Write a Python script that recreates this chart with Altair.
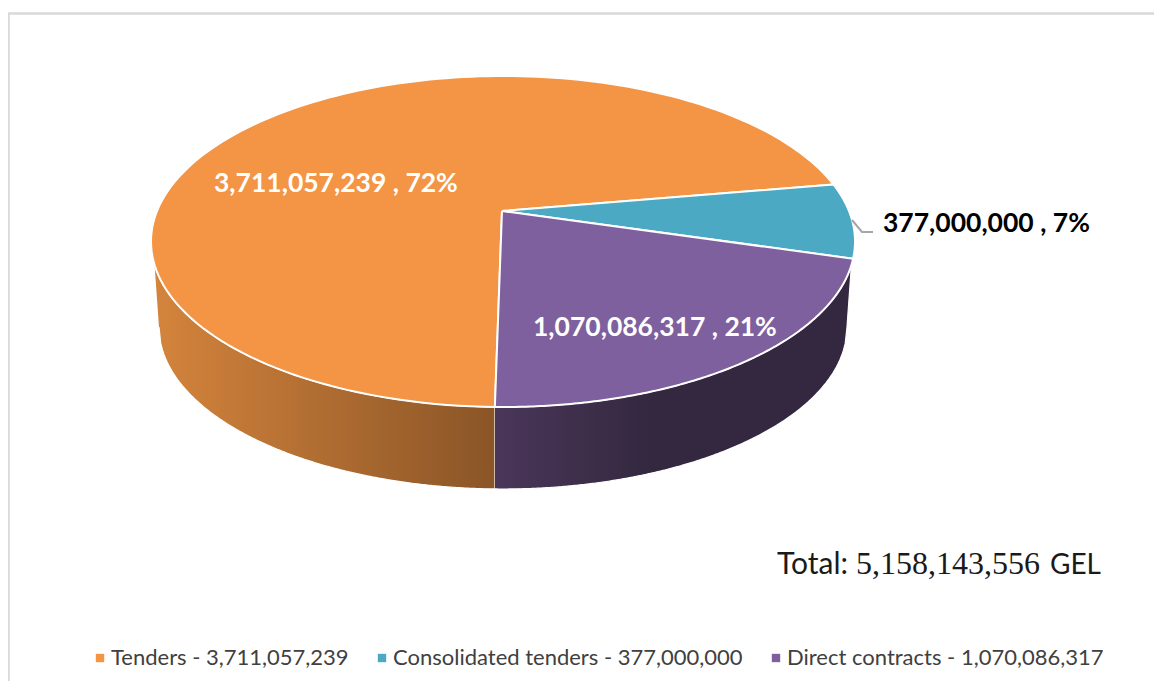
import numpy as np
import pandas as pd
import altair as alt

categories = ["Tenders", "Consolidated tenders", "Direct contracts"]
values = [3711057239, 377000000, 1070086317]
total_text = "5,158,143,556"
colors = ["#F39545", "#4BA9C4", "#7F609E"]

# drawing geometry of the tilted disc
CX, CY, RX, RY = 503.0, 241.5, 352.0, 165.5
BCY, BRX, BRY = 327.0, 344.0, 162.0
TILT = 0.184
START = 181.1
WALL_Y = 265.0
SPLIT_X = 495.0


def rim(theta_deg):
    t = np.radians(np.asarray(theta_deg, dtype=float))
    u, v = np.sin(t), np.cos(t)
    s = np.sqrt(1 - TILT ** 2)
    d = 1 + TILT * v
    return CX + RX * u * s / d, CY - RY * (v + TILT) / d


def frame(xs, ys):
    return pd.DataFrame({"x": xs, "y": ys, "i": np.arange(len(xs))})


X = alt.X("x:Q", scale=alt.Scale(domain=[8, 1154], range=[0, 1146]), axis=None)
Y = alt.Y("y:Q", scale=alt.Scale(domain=[681, 8], range=[673, 0]), axis=None)
O = alt.Order("i:Q")


def poly(df, fill, stroke="white", sw=2.0):
    return (alt.Chart(df).mark_line(fill=fill, stroke=stroke, strokeWidth=sw, strokeJoin="round")
            .encode(x=X, y=Y, order=O))


def grad(stops):
    return alt.Gradient(gradient="linear", x1=0, x2=1, y1=0, y2=0,
                        stops=[alt.GradientStop(color=c, offset=o) for c, o in stops])


shares = np.array(values) / sum(values)
edges = [START]
for s in shares:
    edges.append(edges[-1] + s * 360)

apex_x, apex_y = CX - 1, CY - RY * TILT

slices = []
for k in range(3):
    th = np.linspace(edges[k], edges[k + 1], 160)
    rx, ry = rim(th)
    xs = np.r_[apex_x, rx, apex_x]
    ys = np.r_[apex_y, ry, apex_y]
    slices.append(poly(frame(xs, ys), colors[k]))


def top_y(x):
    return CY + RY * np.sqrt(np.clip(1 - ((x - CX) / RX) ** 2, 0, 1))


def bot_y(x):
    return BCY + BRY * np.sqrt(np.clip(1 - ((x - CX) / BRX) ** 2, 0, 1))


left_x = CX - RX * np.sqrt(1 - ((WALL_Y - CY) / RY) ** 2)
right_x = CX + RX * np.sqrt(1 - ((WALL_Y - CY) / RY) ** 2)

tx = np.linspace(left_x, SPLIT_X, 160)
bx = np.linspace(SPLIT_X, CX - BRX, 200)
wall_o = frame(np.r_[tx, bx], np.r_[top_y(tx), bot_y(bx)])
tx2 = np.linspace(SPLIT_X, right_x, 160)
bx2 = np.linspace(CX + BRX, SPLIT_X, 200)
wall_p = frame(np.r_[tx2, bx2], np.r_[top_y(tx2), bot_y(bx2)])

wall_orange = poly(wall_o, grad([("#D4843C", 0), ("#8A5527", 1)]), sw=1.2)
wall_purple = poly(wall_p, grad([("#4A3659", 0), ("#33283F", 0.45), ("#33283F", 1)]), sw=1.2)

leader = (alt.Chart(pd.DataFrame({"x": [852, 862, 873], "y": [220, 232, 232], "i": [0, 1, 2]}))
          .mark_line(stroke="#A6A6A6", strokeWidth=2).encode(x=X, y=Y, order=O))

frame_lines = (alt.Chart(pd.DataFrame({"x": [8.5, 8.5, 1154], "y": [681, 13.5, 13.5], "i": [0, 1, 2]}))
               .mark_line(stroke="#D9D9D9", strokeWidth=2.5).encode(x=X, y=Y, order=O))

pct = [f"{v:,} , {round(s * 100)}%" for v, s in zip(values, shares)]
label_df = pd.DataFrame({"t": pct, "x": [214, 883, 533], "y": [184, 224, 328],
                         "c": ["white", "black", "white"]})
labels = (alt.Chart(label_df)
          .mark_text(font="Lato", fontWeight="bold", fontSize=26.5, align="left", baseline="middle")
          .encode(x=X, y=Y, text="t:N", color=alt.Color("c:N", scale=None)))

legend_names = [f"{c} - {v:,}" for c, v in zip(categories, values)]
legend_df = pd.DataFrame({"name": legend_names, "x": [apex_x] * 3, "y": [apex_y] * 3})
legend_layer = (alt.Chart(legend_df).mark_square(size=4)
                .encode(x=X, y=Y,
                        color=alt.Color("name:N", scale=alt.Scale(domain=legend_names, range=colors),
                                        legend=alt.Legend(title=None, orient="none", legendX=81, legendY=639,
                                                          direction="horizontal", columns=3,
                                                          symbolType="square", symbolSize=70, symbolOpacity=1,
                                                          labelFont="Lato", labelFontSize=22, labelLimit=500,
                                                          labelColor="#404040", columnPadding=22,
                                                          labelOffset=0, padding=0)))
                )

total_parts = ["Total:", total_text, "GEL"]
total_fonts = ["Lato", "Liberation Serif", "Lato"]
total_sizes = [30, 32, 28]
total_x = [777, 856, 1050]
total = (alt.Chart(pd.DataFrame({"t": total_parts, "x": total_x, "y": [574] * 3}))
         .encode(x=X, y=Y, text="t:N"))
total_layers = [
    total.transform_filter(alt.datum.t == p)
    .mark_text(font=f, fontSize=z, align="left", baseline="alphabetic", color="#1a1a1a")
    for p, f, z in zip(total_parts, total_fonts, total_sizes)
]

chart = (alt.layer(frame_lines, legend_layer, wall_orange, wall_purple, *slices, leader, labels, *total_layers)
         .properties(width=1146, height=673, padding=0, autosize=alt.AutoSizeParams(type="none"))
         .configure_view(stroke=None))
chart.save("out.html", embed_options={"renderer": "svg", "actions": False})
